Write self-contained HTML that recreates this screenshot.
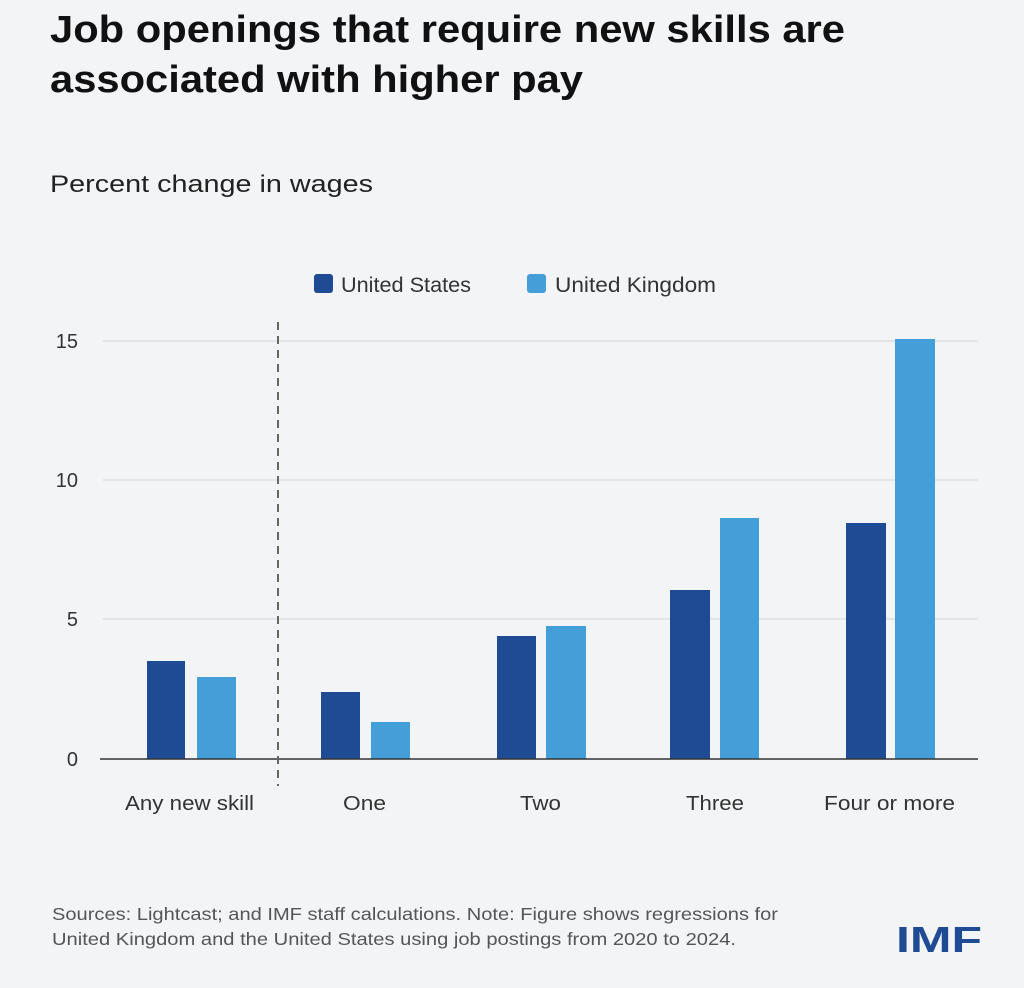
<!DOCTYPE html>
<html><head><style>
body{margin:0;background:#f3f4f6;}
svg{display:block;font-family:"Liberation Sans",sans-serif;}
</style></head><body>
<svg width="1024" height="988" viewBox="0 0 1024 988">
<rect width="1024" height="988" fill="#f3f4f6"/>
<text x="50" y="42" font-size="38" font-weight="bold" fill="#111" textLength="795" lengthAdjust="spacingAndGlyphs">Job openings that require new skills are</text>
<text x="50" y="92" font-size="38" font-weight="bold" fill="#111" textLength="533" lengthAdjust="spacingAndGlyphs">associated with higher pay</text>
<text x="50" y="192" font-size="24" fill="#222" textLength="323" lengthAdjust="spacingAndGlyphs">Percent change in wages</text>
<rect x="314" y="274" width="19" height="19" rx="3" fill="#1f4b94"/>
<text x="341" y="292" font-size="21" fill="#333" textLength="130" lengthAdjust="spacingAndGlyphs">United States</text>
<rect x="527" y="274" width="19" height="19" rx="3" fill="#449fd9"/>
<text x="555" y="292" font-size="21" fill="#333" textLength="161" lengthAdjust="spacingAndGlyphs">United Kingdom</text>
<g stroke="#dedede" stroke-width="1.5">
<line x1="103" y1="341" x2="978" y2="341"/>
<line x1="103" y1="480" x2="978" y2="480"/>
<line x1="103" y1="619" x2="978" y2="619"/>
</g>
<g font-size="20" fill="#333" text-anchor="end">
<text x="78" y="348">15</text><text x="78" y="487">10</text><text x="78" y="626">5</text><text x="78" y="766">0</text>
</g>
<g fill="#1f4b94">
<rect x="147" y="661" width="38" height="98"/>
<rect x="321" y="692" width="39" height="67"/>
<rect x="497" y="636" width="39" height="123"/>
<rect x="670" y="590" width="40" height="169"/>
<rect x="846" y="523" width="40" height="236"/>
</g>
<g fill="#449fd9">
<rect x="197" y="677" width="39" height="82"/>
<rect x="371" y="722" width="39" height="37"/>
<rect x="546" y="626" width="40" height="133"/>
<rect x="720" y="518" width="39" height="241"/>
<rect x="895" y="339" width="40" height="420"/>
</g>
<line x1="100" y1="759" x2="978" y2="759" stroke="#333" stroke-width="1.5"/>
<line x1="278" y1="322" x2="278" y2="786" stroke="#6b6560" stroke-width="2" stroke-dasharray="8,6"/>
<g font-size="20" fill="#333">
<text x="125" y="810" textLength="129" lengthAdjust="spacingAndGlyphs">Any new skill</text>
<text x="343" y="810" textLength="43" lengthAdjust="spacingAndGlyphs">One</text>
<text x="520" y="810" textLength="41" lengthAdjust="spacingAndGlyphs">Two</text>
<text x="686" y="810" textLength="58" lengthAdjust="spacingAndGlyphs">Three</text>
<text x="824" y="810" textLength="131" lengthAdjust="spacingAndGlyphs">Four or more</text>
</g>
<text x="52" y="920" font-size="17.5" fill="#555" textLength="726" lengthAdjust="spacingAndGlyphs">Sources: Lightcast; and IMF staff calculations. Note: Figure shows regressions for</text>
<text x="52" y="945" font-size="17.5" fill="#555" textLength="684" lengthAdjust="spacingAndGlyphs">United Kingdom and the United States using job postings from 2020 to 2024.</text>
<text x="896" y="952" font-size="36" font-weight="bold" fill="#1f4b94" textLength="86" lengthAdjust="spacingAndGlyphs">IMF</text>
</svg>
</body></html>
